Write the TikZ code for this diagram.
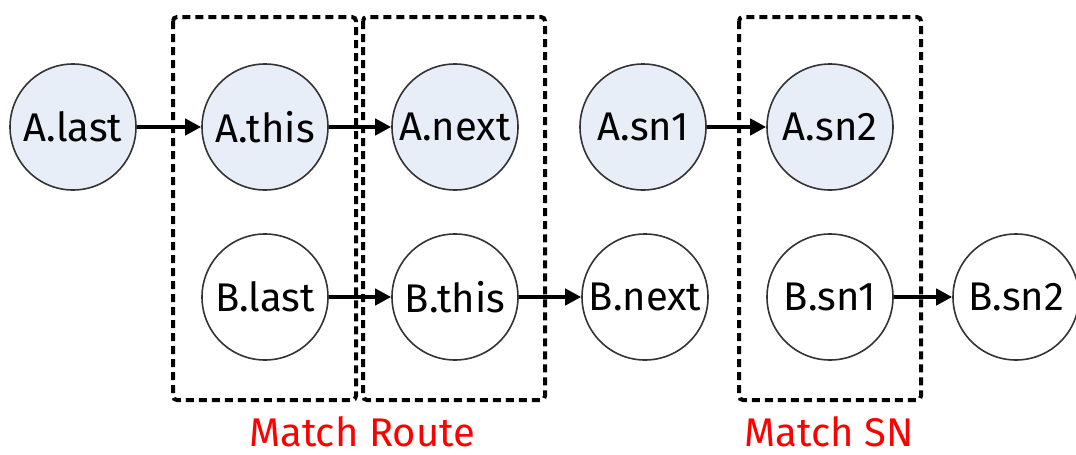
\documentclass[tikz,border=0pt]{standalone}
\usepackage{fontspec}
\setmainfont{Fira Sans}
\usetikzlibrary{arrows.meta}
\definecolor{statefill}{RGB}{232,238,248}
\definecolor{stateline}{gray}{0.2}
\tikzset{
  st/.style={draw=stateline,circle,line width=0.8pt,minimum size=63pt,inner sep=0pt,font=\fontsize{20}{22}\selectfont},
  sta/.style={st,fill=statefill},
  stb/.style={st,fill=white},
  nxt/.style={-{Triangle[length=8pt,width=8pt]},line width=2pt},
  grp/.style={draw,line width=2pt,dash pattern=on 4pt off 2.5pt,rounded corners=2pt},
  capt/.style={text=red,font=\fontsize{20}{22}\selectfont},
}
\begin{document}
\begin{tikzpicture}[x=0.5pt,y=-0.5pt]
  \useasboundingbox (0,0) rectangle (1076,455);
  % matching windows
  \draw[grp] (173,17) rectangle (356,400);
  \draw[grp] (363,17) rectangle (545,400);
  \draw[grp] (739,17) rectangle (921,400);
  % row A
  \node[sta] (alast) at (73,127) {A.last};
  \node[sta] (athis) at (265,127) {A.this};
  \node[sta] (anext) at (455,127) {A.next};
  \node[sta] (asn1) at (643,127) {A.sn1};
  \node[sta] (asn2) at (830,127) {A.sn2};
  % row B
  \node[stb] (blast) at (265,297) {B.last};
  \node[stb] (bthis) at (455,297) {B.this};
  \node[stb] (bnext) at (645,297) {B.next};
  \node[stb] (bsn1) at (830,297) {B.sn1};
  \node[stb] (bsn2) at (1016,297) {B.sn2};
  \draw[nxt] (alast) -- (athis);
  \draw[nxt] (athis) -- (anext);
  \draw[nxt] (asn1) -- (asn2);
  \draw[nxt] (blast) -- (bthis);
  \draw[nxt] (bthis) -- (bnext);
  \draw[nxt] (bsn1) -- (bsn2);
  \node[capt] (mroute) at (362,432) {Match Route};
  \node[capt] (msn) at (829,432) {Match SN};
\end{tikzpicture}
\end{document}
